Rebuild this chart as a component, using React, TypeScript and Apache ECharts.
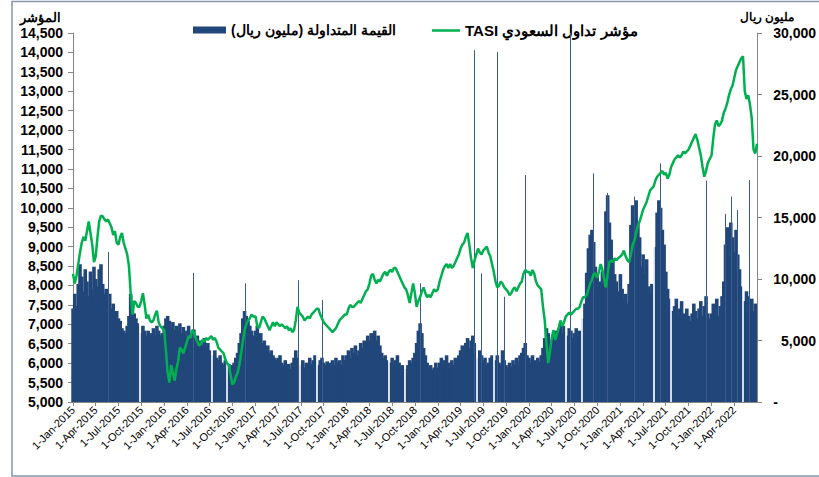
import React, { useEffect, useRef } from "react";
import * as echarts from "echarts";

const BAR_NAME = "\u202Bالقيمة المتداولة (مليون ريال)\u202C";
const LINE_NAME = "\u202Bمؤشر تداول السعودي TASI\u202C";
const LEFT_AXIS_NAME = "المؤشر";
const RIGHT_AXIS_NAME = "مليون ريال";

const TICK_LABELS = [
  "1-Jan-2015", "1-Apr-2015", "1-Jul-2015", "1-Oct-2015",
  "1-Jan-2016", "1-Apr-2016", "1-Jul-2016", "1-Oct-2016",
  "1-Jan-2017", "1-Apr-2017", "1-Jul-2017", "1-Oct-2017",
  "1-Jan-2018", "1-Apr-2018", "1-Jul-2018", "1-Oct-2018",
  "1-Jan-2019", "1-Apr-2019", "1-Jul-2019", "1-Oct-2019",
  "1-Jan-2020", "1-Apr-2020", "1-Jul-2020", "1-Oct-2020",
  "1-Jan-2021", "1-Apr-2021", "1-Jul-2021", "1-Oct-2021",
  "1-Jan-2022", "1-Apr-2022",
];

// Weekly TASI index (week i of a year = 1 Jan + 7*i days)
const TASI_2015 = [8300,8050,8250,8550,8850,9100,9250,9150,9400,9650,9350,9050,8600,8750,9250,9650,9800,9780,9700,9650,9700,9600,9500,9300,9400,9100,9050,9250,9350,9100,8950,8800,8500,7800,7250,7600,7550,7450,7450,7600,7800,7500,7150,7250,7100,7050,7100,7250,7350,7050,6950,6900];
const TASI_2016 = [6850,6350,5750,5500,5950,5750,5550,5850,6050,6400,6350,6250,6400,6550,6700,6650,6850,6800,6650,6550,6450,6500,6600,6550,6650,6600,6650,6700,6600,6650,6550,6400,6350,6300,6250,6100,6000,5950,5700,5450,5500,5650,5750,5950,6250,6550,6850,7000,7100,7150,7250,7200];
const TASI_2017 = [7200,6950,6900,7050,7200,7150,7050,6950,6850,6950,7050,6950,7050,7000,6950,7000,6950,6900,6950,6850,6900,6800,6850,7100,7450,7300,7250,7200,7100,7150,7200,7150,7250,7300,7350,7400,7400,7250,7150,7050,7000,6950,6900,6850,6800,6850,6900,7000,7100,7150,7200,7250];
const TASI_2018 = [7250,7400,7500,7450,7450,7500,7550,7600,7550,7650,7750,7850,7900,8050,8250,8300,8150,8050,8150,8100,8200,8300,8350,8250,8350,8400,8350,8450,8450,8350,8250,8150,8050,7950,7900,7750,7550,7800,8050,7800,7450,7600,7700,7850,7950,7800,7700,7750,7700,7800,7900,7850];
const TASI_2019 = [7900,8100,8250,8400,8500,8550,8450,8550,8450,8500,8600,8700,8800,8950,9050,9100,9250,9350,9050,8700,8450,8650,8800,8950,8850,8800,8900,8950,9000,8850,8750,8550,8350,8100,7950,8000,8100,8050,7950,7900,7850,7750,7800,7900,7950,7850,7950,8050,8100,8300,8400,8350];
const TASI_2020 = [8350,8250,8400,8300,8100,8000,7950,7900,7450,7100,6500,6000,6300,6650,6850,6600,6750,6900,7100,6950,7050,7200,7250,7300,7250,7300,7350,7400,7400,7450,7600,7700,7700,7750,7900,8050,8150,8300,8300,8200,8350,8550,8400,8150,7950,8300,8600,8650,8600,8700,8650,8700];
const TASI_2021 = [8750,8800,8900,8750,8650,8600,8800,9050,9150,9350,9550,9650,9800,9950,10050,10150,10300,10450,10500,10550,10700,10800,10850,10900,10950,10850,10900,10750,10850,11050,11150,11250,11300,11350,11300,11350,11450,11400,11450,11500,11600,11700,11800,11900,11750,11550,11350,11050,10800,10950,11150,11250];
const TASI_2022 = [11350,11800,12150,12250,12100,12150,12250,12450,12550,12700,12900,13050,13150,13350,13550,13650,13750,13850,13900,13000,12800,12900,12650,12300,11500,11400,11650];

// Weekly traded value, million SAR (0 = market holiday week)
const VALUE_2015 = [7600,8800,7800,9600,11200,10200,9000,10800,9800,8600,10600,9200,11000,10000,9400,10800,11200,9600,8800,9200,8200,8800,7600,8000,7200,7400,6800,6600,6000,5800,5600,6200,7000,8800,8200,7200,6800,6400,0,5600,6200,5800,5400,5800,5200,5600,6000,5400,6200,5800,5400,5600];
const VALUE_2016 = [6200,6800,7000,6600,6000,6500,5900,6200,5800,6400,5600,6100,5400,5800,6200,5600,5200,5900,5000,5400,4800,5000,4600,5200,4400,4800,4200,0,3800,4200,3600,3400,3800,3200,3000,3400,0,3100,2800,3000,3200,3600,4000,4800,5600,6800,7400,7000,6600,6200,5800,5400];
const VALUE_2017 = [5800,6200,5400,5600,4800,5000,4400,4600,4000,4200,3800,3600,3400,3600,3800,3200,3000,3400,2800,3100,2700,3200,3600,4200,3600,0,3000,3400,2800,3200,3000,3600,3100,3400,3800,0,3000,3400,3600,3200,3000,3300,2900,3200,3400,3000,3600,3200,3400,3000,3800,3400];
const VALUE_2018 = [3800,4200,3600,4400,4000,4600,3800,4200,4800,4400,5000,4600,5400,5000,5600,5200,5800,5000,5400,4600,4000,3600,3800,3400,0,3200,3600,3000,3400,3800,3200,2800,3000,0,2700,3000,3400,3200,3600,4000,4800,5800,6400,5600,4400,3800,3200,2800,3000,2600,2800,3200];
const VALUE_2019 = [2800,3200,3600,3000,3400,3800,3200,2900,3400,3000,3600,3200,3800,4200,4600,4000,4800,5200,4400,5000,5400,4800,0,3600,4200,3800,3400,3600,3000,3200,3600,3800,0,3400,3800,3200,3000,4200,3400,3000,2800,3200,2900,3400,3000,3600,3200,3800,4000,4400,4800,3800];
const VALUE_2020 = [3600,3200,3800,3400,3000,3600,3300,3800,4400,5200,6000,5600,5000,4800,5400,5800,5200,6000,6400,5600,6200,0,5400,6000,5800,5200,5600,6000,5400,5800,0,6800,8000,10500,12500,13600,14000,13000,11000,10200,9000,9800,10600,9400,15500,16800,14600,13200,11600,10400,9800,9000];
const VALUE_2021 = [10400,9200,8400,8800,8000,9600,14400,16000,15000,16400,14600,13400,11000,12000,10400,11600,9400,8800,9600,0,12600,15400,16400,15800,14000,12800,10600,9200,8400,0,7400,7800,8400,7000,7600,8200,7200,6800,7600,7000,6600,7200,8000,7400,6800,7600,8200,7000,7800,8600,7200,6800];
const VALUE_2022 = [7200,8000,7400,8400,7000,7800,8600,9800,12800,14200,12600,14600,13400,12200,14000,12000,10800,9400,0,8200,9000,8600,7800,8400,7400,8000];

// Single-day spikes in traded value
const SPIKE_DATES = ["2015-05-21","2016-04-27","2016-11-20","2017-06-19","2017-09-24","2018-10-24","2019-05-28","2019-06-23","2019-08-27","2019-09-22","2019-12-15","2020-06-16","2020-09-13","2020-11-11","2021-02-24","2021-06-08","2021-12-10","2022-02-24","2022-03-19","2022-04-12","2022-05-31"];
const SPIKE_VALUES = [12200,10500,9650,9900,8300,9650,28600,10460,28450,8560,18450,30000,18590,17000,16700,19400,18000,15300,16700,15600,18050];

const MONTHS = ["Jan","Feb","Mar","Apr","May","Jun","Jul","Aug","Sep","Oct","Nov","Dec"];
const DAY = 86400000;
const ORIGIN = Date.UTC(2015, 0, 1);

// x positions are day numbers counted from 1 Jan 2015
function dayOf(t: number): number {
  return Math.round((t - ORIGIN) / DAY);
}
function parseTick(s: string): number {
  const [d, m, y] = s.split("-");
  return dayOf(Date.UTC(+y, MONTHS.indexOf(m), +d));
}
function parseIso(s: string): number {
  const [y, m, d] = s.split("-");
  return dayOf(Date.UTC(+y, +m - 1, +d));
}
function weekly(year: number, vals: number[]): [number, number][] {
  return vals.map((v, i) => [dayOf(Date.UTC(year, 0, 1 + 7 * i)), v]);
}

const TASI_BY_YEAR: [number, number[]][] = [
  [2015, TASI_2015], [2016, TASI_2016], [2017, TASI_2017], [2018, TASI_2018],
  [2019, TASI_2019], [2020, TASI_2020], [2021, TASI_2021], [2022, TASI_2022],
];
const VALUE_BY_YEAR: [number, number[]][] = [
  [2015, VALUE_2015], [2016, VALUE_2016], [2017, VALUE_2017], [2018, VALUE_2018],
  [2019, VALUE_2019], [2020, VALUE_2020], [2021, VALUE_2021], [2022, VALUE_2022],
];

export default function App() {
  const ref = useRef<HTMLDivElement>(null);
  useEffect(() => {
    if (!ref.current) return;
    const chart = echarts.init(ref.current, undefined, { renderer: "svg" });
    const tickDays = TICK_LABELS.map(parseTick);
    const labelMap = new Map<number, string>();
    TICK_LABELS.forEach((l, i) => labelMap.set(tickDays[i], l));
    const tasi = TASI_BY_YEAR.flatMap(([y, v]) => weekly(y, v));
    const values = VALUE_BY_YEAR.flatMap(([y, v]) => weekly(y, v));
    const spikes: any[] = SPIKE_DATES.map((d, i) => {
      const x = parseIso(d);
      return [{ coord: [x, 0] }, { coord: [x, SPIKE_VALUES[i]] }];
    });
    // holiday weeks (zero trading) shown as white gaps in the bar mass
    const gaps: any[] = values
      .filter(([, v]) => v === 0)
      .map(([x]) => [
        { coord: [x, 0], lineStyle: { color: "#ffffff", width: 1.6, opacity: 1 } },
        { coord: [x, 20000] },
      ]);
    const axisGray = "#868686";
    const fmt = (v: number) => v.toLocaleString("en-US");
    const legendText = { fontFamily: "Arial", fontWeight: "bold", fontSize: 14, color: "#000" };

    chart.setOption({
      animation: false,
      backgroundColor: "#ffffff",
      grid: { left: 73, right: 62, top: 33, bottom: 75 },
      legend: [
        {
          left: 188,
          top: 18,
          itemWidth: 33,
          itemHeight: 7,
          textStyle: legendText,
          data: [{ name: BAR_NAME, icon: "rect" }],
        },
        {
          left: 427,
          top: 18,
          itemWidth: 28,
          itemHeight: 7,
          textStyle: { ...legendText, fontSize: 15 },
          data: [{ name: LINE_NAME, icon: "path://M0,0H28V2.5H0Z" }],
        },
      ],
      graphic: [
        {
          type: "rect",
          shape: { x: 12, y: 1.5, width: 812, height: 474.5 },
          style: { fill: "none", stroke: "#8496b0", lineWidth: 1.5 },
          silent: true,
        },
        {
          type: "text",
          x: 61, y: 17,
          style: { text: LEFT_AXIS_NAME, align: "right", verticalAlign: "middle", font: "bold 13px Arial", fill: "#000" },
        },
        {
          type: "text",
          x: 767, y: 17,
          style: { text: RIGHT_AXIS_NAME, align: "center", verticalAlign: "middle", font: "bold 12px Arial", fill: "#000" },
        },
      ],
      xAxis: {
        type: "value",
        min: 0,
        max: dayOf(Date.UTC(2022, 6, 2)),
        axisLine: { lineStyle: { color: axisGray } },
        axisTick: { show: true, customValues: tickDays, length: 4, lineStyle: { color: axisGray } },
        axisLabel: {
          customValues: tickDays,
          rotate: 45,
          margin: 6,
          fontFamily: "Arial",
          fontSize: 11,
          color: "#000",
          formatter: (v: number) => labelMap.get(v) ?? "",
        },
        splitLine: { show: false },
      },
      yAxis: [
        {
          type: "value",
          position: "left",
          min: 5000,
          max: 14500,
          interval: 500,
          axisLine: { show: true, lineStyle: { color: axisGray } },
          axisTick: { show: true, length: 5, lineStyle: { color: axisGray } },
          axisLabel: { formatter: fmt, fontFamily: "Arial", fontWeight: "bold", fontSize: 14, color: "#000", margin: 10 },
          splitLine: { show: false },
        },
        {
          type: "value",
          position: "right",
          min: 0,
          max: 30000,
          interval: 5000,
          axisLine: { show: true, lineStyle: { color: axisGray } },
          axisTick: { show: true, length: 5, lineStyle: { color: axisGray } },
          axisLabel: {
            align: "right",
            margin: 59,
            fontFamily: "Arial",
            fontWeight: "bold",
            fontSize: 14,
            color: "#000",
            formatter: (v: number) => (v === 0 ? "{z|-}" : fmt(v)),
            rich: { z: { padding: [0, 38, 0, 0], fontFamily: "Arial", fontWeight: "bold", fontSize: 14, color: "#000" } },
          },
          splitLine: { show: false },
        },
      ],
      series: [
        {
          name: BAR_NAME,
          type: "bar",
          yAxisIndex: 1,
          data: values,
          barWidth: 3.6,
          itemStyle: { color: "#21477a" },
          emphasis: { disabled: true },
          markLine: {
            silent: true,
            symbol: ["none", "none"],
            label: { show: false },
            lineStyle: { color: "#3a5b8c", width: 1, type: "solid" },
            emphasis: { disabled: true },
            data: gaps.concat(spikes),
          },
        },
        {
          name: LINE_NAME,
          type: "line",
          yAxisIndex: 0,
          data: tasi,
          showSymbol: false,
          symbol: "none",
          z: 5,
          lineStyle: { color: "#00b050", width: 2.5 },
          itemStyle: { color: "#00b050" },
          emphasis: { disabled: true },
        },
      ],
    });
    return () => chart.dispose();
  }, []);
  return <div ref={ref} style={{ position: "absolute", left: 0, top: 0, width: 819, height: 477 }} />;
}
